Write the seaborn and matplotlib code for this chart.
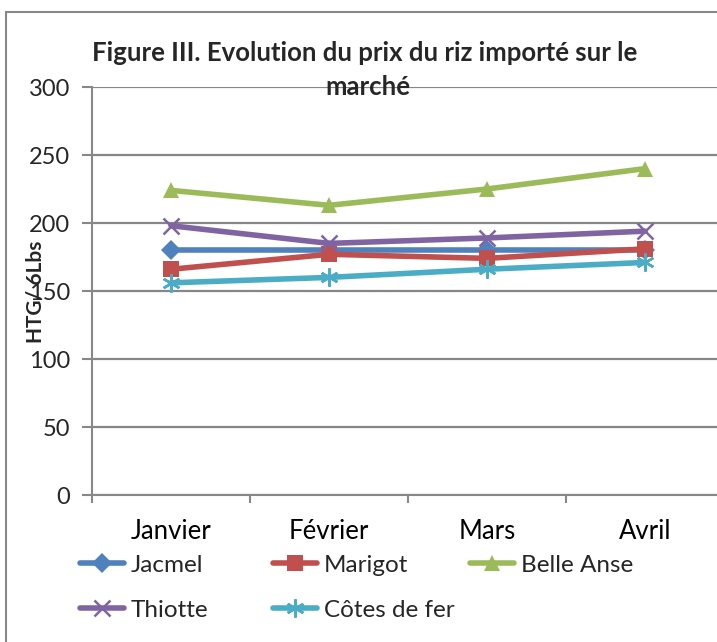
import matplotlib
matplotlib.use("Agg")
import matplotlib.pyplot as plt
import seaborn as sns
import pandas as pd
from matplotlib.lines import Line2D
from matplotlib.patches import Rectangle

months = ["Janvier", "Février", "Mars", "Avril"]
jacmel = [180, 180, 180, 180]
marigot = [166, 177, 174, 181]
belle_anse = [224, 213, 225, 240]
thiotte = [198, 185, 189, 194]
cotes_de_fer = [156, 160, 166, 171]
series_names = ["Jacmel", "Marigot", "Belle Anse", "Thiotte", "Côtes de fer"]
y_ticks = [0, 50, 100, 150, 200, 250, 300]

sns.set_theme(style="white")
FONT = ["Lato", "DejaVu Sans"]
plt.rcParams["font.family"] = FONT

colors = ["#4F81BD", "#C0504D", "#9BBB59", "#8064A2", "#4BACC6"]
markers = ["D", "s", "^", "x", (6, 2, 0)]
msizes = [10, 11, 12, 12, 13]
values = [jacmel, marigot, belle_anse, thiotte, cotes_de_fer]

fig = plt.figure(figsize=(7.17, 6.42), dpi=100)
ax = fig.add_axes([92 / 717, 147 / 642, 632 / 717, 408 / 642])

for name, vals, c, m, ms in zip(series_names, values, colors, markers, msizes):
    df = pd.DataFrame({"x": range(len(months)), "y": vals})
    filled = m not in ("x",) and not isinstance(m, tuple)
    sns.lineplot(data=df, x="x", y="y", ax=ax, color=c, lw=4.0, marker=m,
                 markersize=ms, markeredgewidth=1.8 if not filled else 0,
                 markeredgecolor=c, markerfacecolor=c, legend=False, zorder=3)

ax.set_xlim(-0.5, 3.5)
ax.set_ylim(0, 300)
ax.set_yticks(y_ticks)
ax.set_xticks(range(len(months)))
ax.set_xticklabels(months)
ax.set_xticks([-0.5, 0.5, 1.5, 2.5], minor=True)
ax.tick_params(axis="x", which="major", length=0, labelsize=18.5, pad=17, colors="black")
ax.tick_params(axis="x", which="minor", length=6, width=1.5, color="#888888", direction="out", bottom=True)
ax.tick_params(axis="y", which="major", length=7, width=1.5, color="#888888", direction="out",
               labelsize=17, pad=8.5, left=True)
ax.set_xlabel("")
ax.set_ylabel("")
ax.grid(axis="y", color="#868686", lw=1.6)
ax.set_axisbelow(True)
for s in ["top", "right"]:
    ax.spines[s].set_visible(False)
for s in ["left", "bottom"]:
    ax.spines[s].set_color("#888888")
    ax.spines[s].set_linewidth(1.5)

fig.text(365 / 717, 1 - 53 / 642, "Figure III. Evolution du prix du riz importé sur le",
         ha="center", va="center", fontsize=18.5, fontweight="bold")
fig.text(368 / 717, 1 - 87 / 642, "marché", ha="center", va="center",
         fontsize=18.5, fontweight="bold")
fig.text(35 / 717, 1 - 292 / 642, "HTG/ 6Lbs", rotation=90, ha="center", va="center",
         fontsize=15, fontweight="bold")

# outer border (top and left visible)
fig.patches.append(Rectangle((6 / 717, -0.1), 1.2, 1.1 - 12 / 642, transform=fig.transFigure,
                             fill=False, edgecolor="#888888", lw=1.5))

pos = [(80, 565), (273, 565), (470, 565), (80, 610), (273, 610)]
for name, c, m, ms, (px, py) in zip(series_names, colors, markers, msizes, pos):
    filled = m not in ("x",) and not isinstance(m, tuple)
    h = Line2D([], [], color=c, lw=4.0, marker=m, markersize=ms,
               markeredgewidth=1.8 if not filled else 0, markerfacecolor=c, markeredgecolor=c)
    fig.legend(handles=[h], labels=[name], loc="center left",
               bbox_to_anchor=(px / 717, 1 - py / 642), frameon=False, fontsize=17.5,
               handlelength=1.8, handletextpad=0.3, borderpad=0, borderaxespad=0)

fig.savefig("out.png", dpi=100)
